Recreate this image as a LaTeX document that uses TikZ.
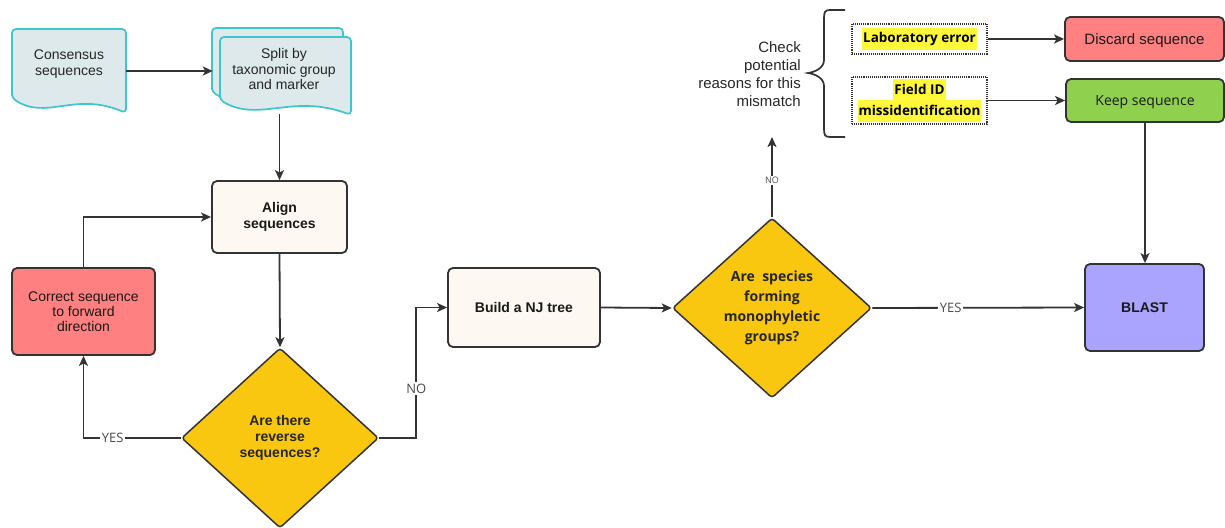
\documentclass[tikz,border=0pt]{standalone}
\usepackage{fontspec}
\setmainfont{Liberation Sans}
\newfontfamily\osans{Open Sans}
\usetikzlibrary{shapes.geometric,arrows.meta}
\definecolor{ln}{HTML}{333333}
\definecolor{docfill}{HTML}{DDE9EA}
\definecolor{docline}{HTML}{3CC6CE}
\definecolor{cream}{HTML}{FDF9F2}
\definecolor{redf}{HTML}{FF8080}
\definecolor{greenf}{HTML}{8FD14F}
\definecolor{purf}{HTML}{AAA4FE}
\definecolor{yel}{HTML}{FAC710}
\definecolor{hl}{HTML}{FFF83A}
\definecolor{lg}{HTML}{4A4A4A}
\setlength{\fboxsep}{1pt}
\newcommand\docshp[4]{%
  \pgfmathsetmacro\dw{#3-#1}%
  \draw[docst] (#1,#4-15) -- (#1,#2) -- (#3,#2) -- (#3,#4)
    .. controls ({#1+0.55*\dw},#4-22) and ({#1+0.3*\dw},#4+8) .. (#1,#4-15) -- cycle;}
\newcommand\hlt[1]{\colorbox{hl}{\strut #1}}
\begin{document}
\begin{tikzpicture}[x=1pt,y=-1pt,
  docst/.style={draw=docline, fill=docfill, line width=1.7pt, rounded corners=4pt},
  doctext/.style={align=center, inner sep=0pt, text=black!85, font=\fontsize{14}{15.5}\selectfont},
  box/.style={draw=ln, line width=1.8pt, rounded corners=5pt, align=center, inner sep=2pt, text=black!90},
  dia/.style={diamond, draw=ln, line width=1.5pt, fill=yel, inner sep=0pt, minimum width=199pt, minimum height=180pt, rounded corners=3pt, align=center, text=black!85},
  dotbox/.style={draw=ln, densely dotted, line width=1.1pt, align=center, inner sep=2pt, font=\osans\bfseries\fontsize{13.5}{20}\selectfont},
  arr/.style={draw=ln, line width=1.8pt, -{Stealth[length=10pt,width=9pt,inset=2.5pt]}},
  lbl/.style={fill=white, text=lg, font=\osans\fontsize{13}{15}\selectfont, inner sep=2pt}]
\useasboundingbox (0,0) rectangle (1225,527);

% documents
\docshp{12}{29}{126}{113}
\docshp{212}{28}{343}{107}
\docshp{220}{37}{351}{115}
\node[doctext, minimum width=114pt, minimum height=70pt] (cons) at (69,64) {Consensus\\sequences};
\node[doctext, minimum width=142pt, minimum height=90pt] (split) at (284,69) {Split by\\taxonomic group\\and marker};

% boxes
\node[box, fill=cream, minimum width=135pt, minimum height=72pt, font=\bfseries\fontsize{14}{15.5}\selectfont] (align) at (279.5,217) {Align\\sequences};
\node[box, fill=redf, minimum width=143pt, minimum height=87pt, font=\fontsize{14}{15}\selectfont] (correct) at (83.5,311.5) {Correct sequence\\to forward\\direction};
\node[box, fill=cream, minimum width=152pt, minimum height=79pt, text depth=0pt, font=\bfseries\fontsize{14}{16}\selectfont] (build) at (524,307.5) {Build a NJ tree};
\node[box, fill=purf, minimum width=119pt, minimum height=87pt, font=\bfseries\fontsize{14}{16}\selectfont] (blast) at (1144.5,307.5) {BLAST};
\node[box, fill=redf, minimum width=159pt, minimum height=44pt, text depth=0pt, font=\fontsize{15}{17}\selectfont] (discard) at (1144.5,39) {Discard sequence};
\node[box, fill=greenf, minimum width=158pt, minimum height=43pt, text depth=0pt, font=\osans\fontsize{14}{16}\selectfont] (keep) at (1145,100.5) {Keep sequence};

% diamonds
\node[dia, minimum width=197pt, font=\bfseries\fontsize{14}{16}\selectfont] (d1) at (280,438) {Are there\\reverse\\sequences?};
\node[dia, font=\osans\bfseries\fontsize{14}{20}\selectfont] (d2) at (772,308) {Are\ \ species\\forming\\monophyletic\\groups?};

% reasons
\node[dotbox, minimum width=135pt, minimum height=30pt] (lab) at (919.5,39) {\hlt{Laboratory error}};
\node[dotbox, minimum width=135pt, minimum height=43pt] (field) at (919.5,100.5) {\hlt{Field ID}\\[-2pt]\hlt{missidentification}};
\node[anchor=east, align=right, inner sep=0pt, text=black!85, font=\fontsize{15}{18}\selectfont] (check) at (801,74) {Check\\potential\\reasons for this\\mismatch};
\draw[draw=ln, line width=1.7pt] (845,10) -- (830,10) .. controls (825,10) and (824,12) .. (824,18) -- (824,60)
  .. controls (824,68) and (815,72) .. (808,73) .. controls (815,74) and (824,78) .. (824,86)
  -- (824,129) .. controls (824,135) and (825,137) .. (830,137) -- (845,137);
\coordinate (up) at (772,137);

% connectors
\draw[arr] ([yshift=-7pt]cons.east) -- ([yshift=-7pt]cons.east -| split.west);
\draw[arr] (split.south -| align.north) -- (align.north);
\draw[arr] (align.south) -- (d1.north);
\draw[arr] (d1.west) -| node[lbl, pos=0.35] {YES} (correct.south);
\draw[arr] (correct.north) |- (align.west);
\draw[arr] (d1.east) -- ++(37,0) |- node[lbl, pos=0.19] {NO} (build.west);
\draw[arr] (build.east) -- (d2.west);
\draw[arr] (d2.north) -- node[lbl, pos=0.46, font=\osans\fontsize{9}{10}\selectfont, inner sep=1pt] {NO} (up);
\draw[arr] (d2.east) -- node[lbl, pos=0.37] {YES} (blast.west);
\draw[arr] (lab.east) -- (discard.west);
\draw[arr] (field.east) -- (keep.west);
\draw[arr] (keep.south) -- (keep.south |- blast.north);
\end{tikzpicture}
\end{document}
